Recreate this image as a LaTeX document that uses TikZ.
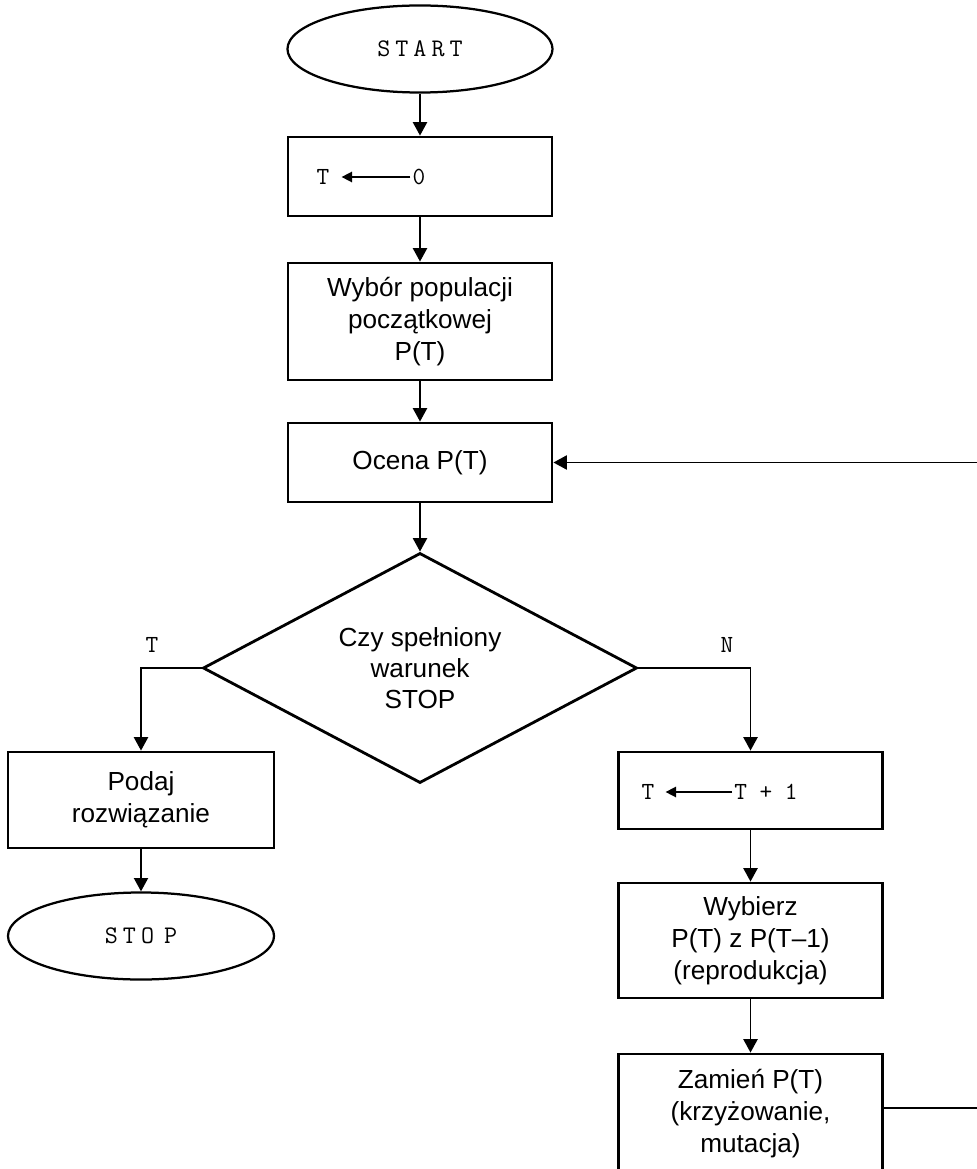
\documentclass[tikz,border=0pt]{standalone}
\usepackage{fontspec}
\setmainfont{Liberation Sans}
\newfontfamily\courfont{Latin Modern Mono}
\newfontfamily\courwide[LetterSpace=20]{Latin Modern Mono}
\usetikzlibrary{arrows.meta,shapes.geometric}

\begin{document}
\begin{tikzpicture}[x=0.025cm, y=-0.025cm,
        >={Triangle[length=9.5pt,width=10pt]},
        blok/.style={draw, line width=2pt, minimum width=6.6cm, inner sep=2pt,
                     align=center, font=\fontsize{18.6}{22.8}\selectfont},
        term/.style={draw, ellipse, line width=1.6pt, minimum width=6.625cm,
                     minimum height=2.175cm, font=\courwide\fontsize{18}{20}\selectfont},
        cour/.style={inner sep=0pt, font=\courfont\fontsize{17.5}{19}\selectfont}]

        \path[use as bounding box] (0,0) rectangle (977,1169);
        \clip (0,0) rectangle (977,1169);

        \node[term] (start) at (420,49) {START};

        \node[blok, minimum height=1.975cm] (init)    at (420,176.5) {};
        \node[blok, minimum height=2.925cm] (wybor)   at (420,321.5) {Wybór populacji\\początkowej\\P(T)};
        \node[blok, minimum height=1.975cm] (ocena)   at (420,462.5) {Ocena P(T)};

        \node[draw, diamond, line width=2pt, aspect=1.887, inner sep=0pt,
              minimum width=10.85cm, minimum height=5.75cm, align=center,
              font=\fontsize{18.6}{22}\selectfont] (warunek) at (420,668)
              {Czy spełniony\\warunek\\STOP};

        \node[blok, minimum width=6.65cm, minimum height=2.4cm] (podaj) at (141,800) {Podaj\\rozwiązanie};
        \node[term, minimum width=6.65cm] (stop) at (141,936) {STO\kern0.4em P};

        \node[blok, minimum height=1.925cm] (inc)     at (750.5,790.5) {};
        \node[blok, minimum height=2.875cm] (wybierz) at (750.5,940.5) {Wybierz\\P(T) z P(T--1)\\(reprodukcja)};
        \node[blok, minimum height=3cm]     (zamien)  at (750.5,1114)  {Zamień P(T)\\(krzyżowanie,\\mutacja)};

        % podstawienia w blokach
        \node[cour] (initT) at (323,177) {T};
        \node[cour] (init0) at (419,177) {0};
        \node[cour] (incT)  at (648,792) {T};
        \node[cour] (incT1) at (766,792) {T + 1};

        % etykiety galezi
        \node[cour] (labT) at (152,645) {T};
        \node[cour] (labN) at (727,645) {N};

        \coordinate (back) at (1010,1108);

        \begin{scope}[line width=1.3pt]
            \path [->] (start) edge (init);
            \path [->] (init) edge (wybor);
            \path [->] (wybor) edge (ocena);
            \path [->] (ocena) edge (warunek);
            \path [->] (podaj) edge (stop);
            \path [->] (inc) edge (wybierz);
            \path [->] (wybierz) edge (zamien);

            \draw [->] (warunek.west) -| (podaj.north);
            \draw [->] (warunek.east) -| (inc.north);
            \draw [->] (zamien.east |- back) -- (back) |- (ocena.east);
        \end{scope}

        \begin{scope}[line width=1.1pt, >={Triangle[length=7.5pt,width=7.5pt]}]
            \path [->] (init0) edge[shorten <=0.05cm, shorten >=0.3cm] (initT);
            \path [->] (incT1) edge[shorten <=0.05cm, shorten >=0.275cm] (incT);
        \end{scope}
    \end{tikzpicture}
\end{document}
